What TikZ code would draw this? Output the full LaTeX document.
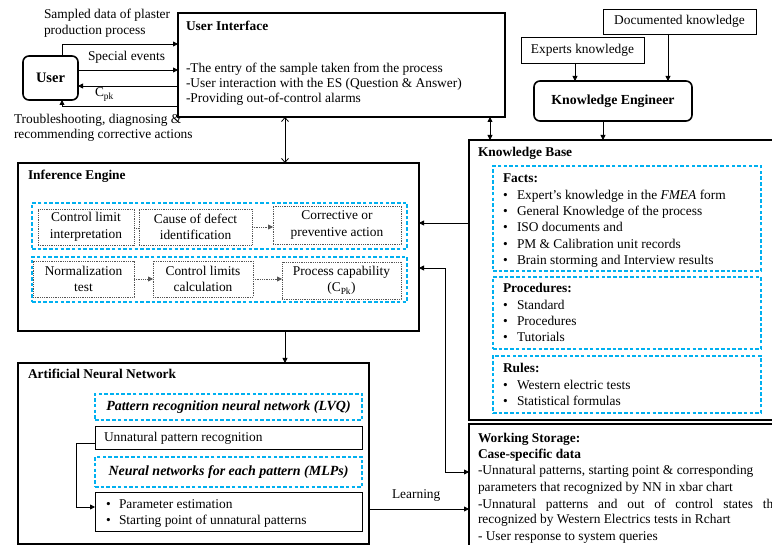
\documentclass[tikz,border=0pt]{standalone}
\usepackage{fontspec}
\setmainfont{Liberation Serif}
\usetikzlibrary{arrows.meta}
\definecolor{cy}{RGB}{0,176,240}
\definecolor{dg}{RGB}{85,85,85}
\newcommand\fs{\fontsize{13.4}{16.5}\selectfont}
\newcommand\mybox[7]{\node[#1, anchor=north west, minimum width={(#5-#3)*1pt}, minimum height={(#6-#4)*1pt}] (#2) at (#3,#4) {#7};}
\newcommand\tline[4]{\node[tx] (#1) at (#2,#3) {#4};}
\begin{document}
\begin{tikzpicture}[x=1pt, y=-1pt,
 tx/.style={inner sep=0, outer sep=0, anchor=base west, font=\fs},
 bigbox/.style={draw, line width=1.6pt, inner sep=0, outer sep=0, font=\fs},
 thinbx/.style={draw, line width=0.8pt, inner sep=0, outer sep=0, font=\fs},
 cybox/.style={draw=cy, line width=1.1pt, dash pattern=on 3.5pt off 2.2pt, inner sep=0, outer sep=0, font=\fs},
 dotbx/.style={draw=dg, line width=0.9pt, dash pattern=on 0.9pt off 0.9pt, inner sep=0, outer sep=0, font=\fs, align=center},
 arr/.style={line width=0.8pt, -{Triangle[length=5pt,width=5pt]}},
 darr/.style={line width=0.8pt, {Triangle[length=5pt,width=5pt]}-{Triangle[length=5pt,width=5pt]}},
 oarr/.style={line width=0.8pt, {Straight Barb[length=4pt,width=7pt]}-{Straight Barb[length=4pt,width=7pt]}},
 dotln/.style={draw=dg, line width=0.9pt, dash pattern=on 0.9pt off 0.9pt},
 dotarr/.style={dotln, -{Triangle[length=5pt,width=5pt]}},
]
\useasboundingbox (0,0) rectangle (772,545);
\clip (0,0) rectangle (772,545);
\fill[white] (0,0) rectangle (772,545);

% ---------- User and interface ----------
\mybox{bigbox, rounded corners=6pt}{user}{23}{56}{78}{100}{\fontsize{14.5}{16}\selectfont\textbf{User}}
\mybox{bigbox}{ui}{178}{13}{505}{117}{}
\tline{uit}{186}{31}{\textbf{User Interface}}
\tline{ui1}{186}{73}{-The entry of the sample taken from the process}
\tline{ui2}{186}{88}{-User interaction with the ES (Question \& Answer)}
\tline{ui3}{186}{103}{-Providing out-of-control alarms}

\tline{la1}{44}{19}{Sampled data of plaster}
\tline{la2}{44}{35}{production process}
\tline{la3}{88}{61}{Special events}
\tline{la4}{95}{97}{C\textsubscript{pk}}
\tline{la5}{14}{124}{Troubleshooting, diagnosing \&}
\tline{la6}{14}{139}{recommending corrective actions}

\draw[arr] ([xshift=11.5pt]user.north) |- (ui.west |- 0,44);
\draw[arr] (user.east |- 0,70) -- (ui.west |- 0,70);
\draw[arr] (ui.west |- 0,86) -- (user.east |- 0,86);
\draw[arr] (ui.west |- 0,106) -| ([xshift=11.5pt]user.south);

% ---------- Knowledge engineer ----------
\mybox{thinbx}{exp}{521}{37}{644}{63}{Experts knowledge}
\mybox{thinbx}{doc}{603}{9}{756}{34}{Documented knowledge}
\mybox{bigbox, rounded corners=6pt}{ke}{534}{81}{692}{121}{\fontsize{13.8}{16}\selectfont\textbf{Knowledge Engineer}}
\draw[arr] (exp.south -| 575,0) -- (ke.north -| 575,0);
\draw[arr] (doc.south -| 668,0) -- (ke.north -| 668,0);

% ---------- Knowledge base ----------
\mybox{bigbox}{kb}{469}{140}{800}{420}{}
\tline{kbt}{478}{157}{\textbf{Knowledge Base}}
\mybox{cybox}{facts}{493}{166}{761}{271}{}
\mybox{cybox}{proc}{493}{277}{761}{349}{}
\mybox{cybox}{rules}{493}{356}{761}{413}{}
\tline{f0}{503}{183}{\textbf{Facts:}}
\tline{f1b}{503}{199.5}{\textbullet}\tline{f1}{517}{199.5}{Expert’s knowledge in the \textit{FMEA} form}
\tline{f2b}{503}{215.8}{\textbullet}\tline{f2}{517}{215.8}{General Knowledge of the process}
\tline{f3b}{503}{232}{\textbullet}\tline{f3}{517}{232}{ISO documents and}
\tline{f4b}{503}{248.4}{\textbullet}\tline{f4}{517}{248.4}{PM \& Calibration unit records}
\tline{f5b}{503}{264.7}{\textbullet}\tline{f5}{517}{264.7}{Brain storming and Interview results}
\tline{p0}{503}{293}{\textbf{Procedures:}}
\tline{p1b}{503}{309.5}{\textbullet}\tline{p1}{517}{309.5}{Standard}
\tline{p2b}{503}{325.8}{\textbullet}\tline{p2}{517}{325.8}{Procedures}
\tline{p3b}{503}{342}{\textbullet}\tline{p3}{517}{342}{Tutorials}
\tline{r0}{503}{373}{\textbf{Rules:}}
\tline{r1b}{503}{389.5}{\textbullet}\tline{r1}{517}{389.5}{Western electric tests}
\tline{r2b}{503}{405.5}{\textbullet}\tline{r2}{517}{405.5}{Statistical formulas}

\draw[darr] (ui.south -| 490,0) -- (kb.north -| 490,0);
\draw[arr] (ke.south -| 603,0) -- (kb.north -| 603,0);

% ---------- Working storage ----------
\mybox{bigbox}{ws}{469}{424}{800}{560}{}
\tline{w0}{478}{443}{\textbf{Working Storage:}}
\tline{w1}{478}{459}{\textbf{Case-specific data}}
\tline{w2}{478}{475}{-Unnatural patterns, starting point \& corresponding}
\tline{w3}{478}{491.5}{parameters that recognized by NN in xbar chart}
\tline{w4}{478}{508}{\makebox[305pt][s]{-Unnatural patterns and out of control states that}}
\tline{w5}{478}{524}{recognized by Western Electrics tests in Rchart}
\tline{w6}{478}{540}{- User response to system queries}

% ---------- Inference engine ----------
\mybox{bigbox}{ie}{18}{163}{419}{331}{}
\tline{iet}{28}{180}{\textbf{Inference Engine}}
\mybox{cybox}{row1}{32}{203}{407}{249}{}
\mybox{cybox}{row2}{32}{257}{407}{302}{}
\mybox{dotbx}{d1}{38}{209}{134}{245}{Control limit\\interpretation}
\mybox{dotbx}{d2}{139}{209}{252}{245}{Cause of defect\\identification}
\mybox{dotbx}{d3}{273}{206}{401}{244}{Corrective or\\preventive action}
\mybox{dotbx}{d4}{33}{261}{134}{297}{Normalization\\test}
\mybox{dotbx}{d5}{153}{261}{253}{297}{Control limits\\calculation}
\mybox{dotbx}{d6}{282}{262}{401}{299}{Process capability\\(C\textsubscript{Pk})}
\draw[dotln] (d1.east |- 0,228) -- (d2.west |- 0,228);
\draw[dotarr] (d2.east |- 0,227) -- (d3.west |- 0,227);
\draw[dotarr] (d4.east |- 0,279) -- (d5.west |- 0,279);
\draw[dotarr] (d5.east |- 0,279) -- (d6.west |- 0,279);

\draw[oarr] (ui.south -| 285,0) -- (ie.north -| 285,0);
\draw[arr] (kb.west |- 0,223) -- (ie.east |- 0,223);
\coordinate (bend) at (445,472);
\draw[darr] (ie.east |- 0,268) -| (bend) -- (ws.west |- bend);

% ---------- ANN ----------
\mybox{bigbox}{ann}{18}{363}{369}{544}{}
\tline{annt}{28}{379}{\textbf{Artificial Neural Network}}
\mybox{cybox}{lvq}{95}{394}{362}{420}{\fontsize{14}{16}\selectfont\textbf{\textit{Pattern recognition neural network (LVQ)}}}
\mybox{thinbx}{unr}{95}{426}{362}{449}{}
\tline{unrt}{104}{442}{Unnatural pattern recognition}
\mybox{cybox}{mlp}{95}{457}{362}{487}{\fontsize{14}{16}\selectfont\textbf{\textit{Neural networks for each pattern (MLPs)}}}
\mybox{thinbx}{par}{95}{492}{362}{531}{}
\tline{pa1b}{106}{508}{\textbullet}\tline{pa1}{119}{508}{Parameter estimation}
\tline{pa2b}{106}{525}{\textbullet}\tline{pa2}{119}{525}{Starting point of unnatural patterns}
\draw[arr] (unr.west |- 0,443) -- ++(-19,0) |- (par.west |- 0,507);

\draw[arr] (ie.south -| 285,0) -- (ann.north -| 285,0);
\draw[arr] (ann.east |- 0,509) -- (ws.west |- 0,509);
\tline{learn}{392}{499}{Learning}
\end{tikzpicture}
\end{document}
